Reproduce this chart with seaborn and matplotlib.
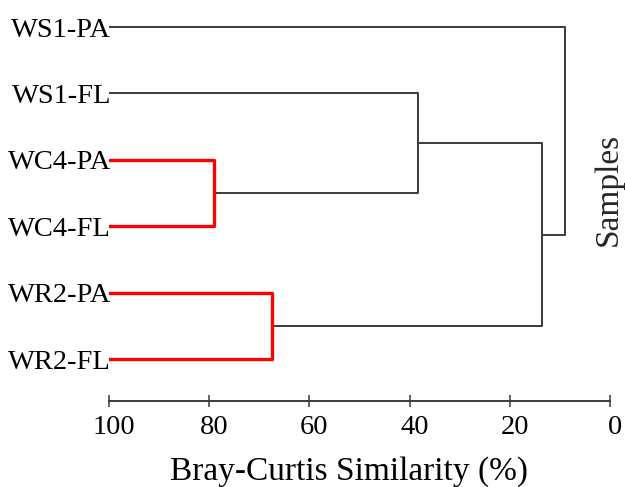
import seaborn as sns
import matplotlib.pyplot as plt
import matplotlib.transforms as mtrans
import pandas as pd

# samples, top to bottom as drawn
samples = ["WS1-PA", "WS1-FL", "WC4-PA", "WC4-FL", "WR2-PA", "WR2-FL"]
# merges: node a, node b, Bray-Curtis similarity (%) ; new nodes numbered from 6
merge_a = [2, 4, 1, 7, 0]
merge_b = [3, 5, 6, 8, 9]
merge_sim = [79.0, 67.5, 38.4, 13.6, 8.9]
merge_red = [True, True, False, False, False]
xticks = [100, 80, 60, 40, 20, 0]

sns.set_theme(style="white")
plt.rcParams['font.family'] = ['Liberation Serif', 'DejaVu Serif']

# node positions
pos_x = {i: 100.0 for i in range(len(samples))}
pos_y = {i: float(i) for i in range(len(samples))}
rows = []
for k, (a, b, s, red) in enumerate(zip(merge_a, merge_b, merge_sim, merge_red)):
    node = len(samples) + k
    xs = [pos_x[a], s, s, pos_x[b]]
    ys = [pos_y[a], pos_y[a], pos_y[b], pos_y[b]]
    for x, y in zip(xs, ys):
        rows.append({'x': x, 'y': y, 'seg': k, 'red': red})
    pos_x[node] = s
    pos_y[node] = (pos_y[a] + pos_y[b]) / 2
df = pd.DataFrame(rows)

fig = plt.figure(figsize=(6.25, 4.87), dpi=100)
ax = fig.add_axes([0.1744, 0.1772, 0.8016, 0.8228])

sns.lineplot(data=df[~df.red], x='x', y='y', units='seg', estimator=None, sort=False,
             color='#3a3a3a', linewidth=1.4, ax=ax)
sns.lineplot(data=df[df.red], x='x', y='y', units='seg', estimator=None, sort=False,
             color='#ff0000', linewidth=2.4, ax=ax)

ax.set_xlim(100, 0)
ax.set_ylim(5.628, -0.407)
ax.set_xticks(xticks)
ax.set_xticklabels([str(t) for t in xticks])
ax.set_yticks(range(len(samples)))
ax.set_yticklabels(samples)
ax.tick_params(axis='y', length=0, pad=-1.5, labelsize=20.5, labelcolor='black')
ax.tick_params(axis='x', direction='inout', length=8.6, width=1.1, color='#3a3a3a',
               labelsize=20.5, labelcolor='black', pad=6, bottom=True)
shift = mtrans.ScaledTranslation(0.05, 0, fig.dpi_scale_trans)
for lab in ax.get_xticklabels():
    lab.set_transform(lab.get_transform() + shift)
for side in ['top', 'left', 'right']:
    ax.spines[side].set_visible(False)
ax.spines['bottom'].set_color('#3a3a3a')
ax.spines['bottom'].set_linewidth(1.4)
ax.set_xlabel('Bray-Curtis Similarity (%)', fontsize=24, color='black', va='baseline')
ax.xaxis.set_label_coords(0.48, -0.198)
ax.set_ylabel('')
fig.text(0.998, 0.61, 'Samples', rotation=90, fontsize=24, ha='right', va='center')

plt.savefig('out.png', dpi=100)
